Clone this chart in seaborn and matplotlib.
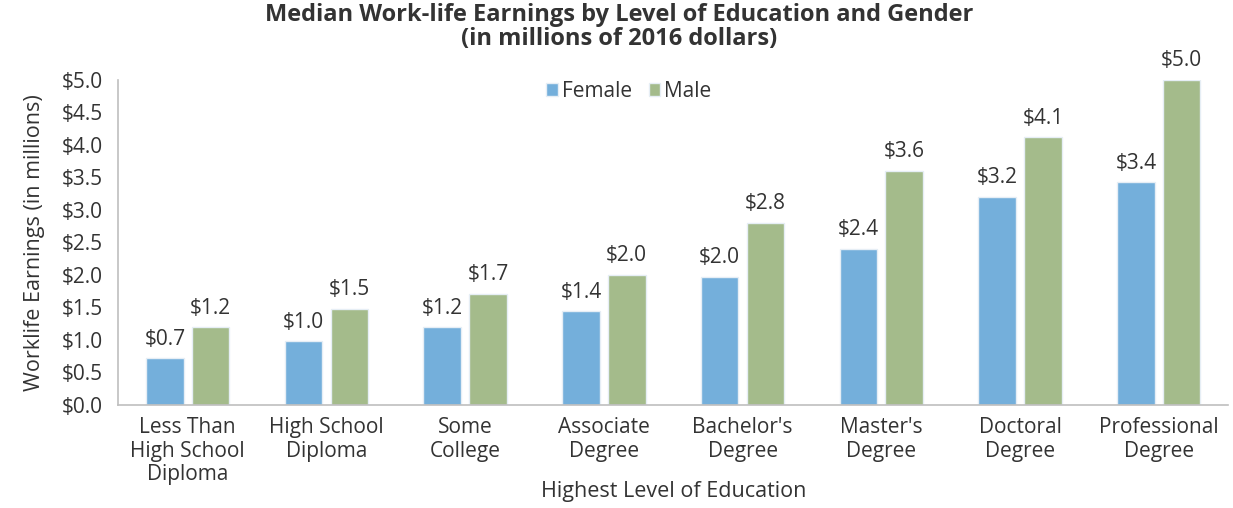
import numpy as np
import pandas as pd
import seaborn as sns
import matplotlib.pyplot as plt

# data (millions of 2016 dollars)
education = ["Less Than\nHigh School\nDiploma", "High School\nDiploma", "Some\nCollege",
             "Associate\nDegree", "Bachelor's\nDegree", "Master's\nDegree",
             "Doctoral\nDegree", "Professional\nDegree"]
female = [0.72, 0.98, 1.20, 1.44, 1.97, 2.40, 3.20, 3.43]
male = [1.20, 1.48, 1.71, 2.00, 2.80, 3.60, 4.12, 5.00]
genders = ["Female", "Male"]
colors = ["#74afdb", "#a4bb8b"]

df = pd.DataFrame({
    "Education": education * 2,
    "Gender": ["Female"] * len(education) + ["Male"] * len(education),
    "Earnings": female + male,
})

sns.set_style("white")
plt.rcParams["font.family"] = ["Open Sans", "DejaVu Sans"]
text_color = "#333333"

fig = plt.figure(figsize=(12.33, 5.08), dpi=100)
ax = fig.add_axes([0.096, 0.203, 0.9, 0.640])

sns.barplot(data=df, x="Education", y="Earnings", hue="Gender", hue_order=genders,
            palette=colors, saturation=1, width=0.66, gap=0.18, edgecolor="#e6eef5",
            linewidth=1, ax=ax)

for cont in ax.containers:
    ax.bar_label(cont, labels=[f"${v:.1f}" for v in cont.datavalues],
                 padding=6, fontsize=15, color=text_color)

ax.set_ylim(0, 5)
ax.set_yticks(np.arange(0, 5.01, 0.5))
ax.set_yticklabels([f"${v:.1f}" for v in np.arange(0, 5.01, 0.5)])
ax.set_xlim(-0.5, len(education) - 0.5)
ax.tick_params(axis="y", labelsize=15, colors=text_color, length=5, width=1, color="#bfbfbf", pad=6)
ax.tick_params(axis="x", labelsize=15, colors=text_color, length=0, pad=9)
for lbl in ax.get_xticklabels():
    lbl.set_linespacing(1.15)

for side in ["top", "right"]:
    ax.spines[side].set_visible(False)
for side in ["left", "bottom"]:
    ax.spines[side].set_color("#bfbfbf")
    ax.spines[side].set_linewidth(1.2)

ax.set_xlabel("Highest Level of Education", fontsize=15.5, color=text_color, labelpad=-3)
ax.set_ylabel("Worklife Earnings (in millions)", fontsize=15.5, color=text_color, labelpad=12)

ax.legend(title=None, loc="upper center", bbox_to_anchor=(0.46, 1.055), ncol=2, frameon=False,
          fontsize=15, handlelength=0.55, handleheight=0.55, handletextpad=0.2,
          columnspacing=0.8, labelcolor=text_color)

fig.suptitle("Median Work-life Earnings by Level of Education and Gender\n(in millions of 2016 dollars)",
             x=0.502, y=0.995, fontsize=17, fontweight="bold", color=text_color, linespacing=1.0)

fig.savefig("out.png", dpi=100)
